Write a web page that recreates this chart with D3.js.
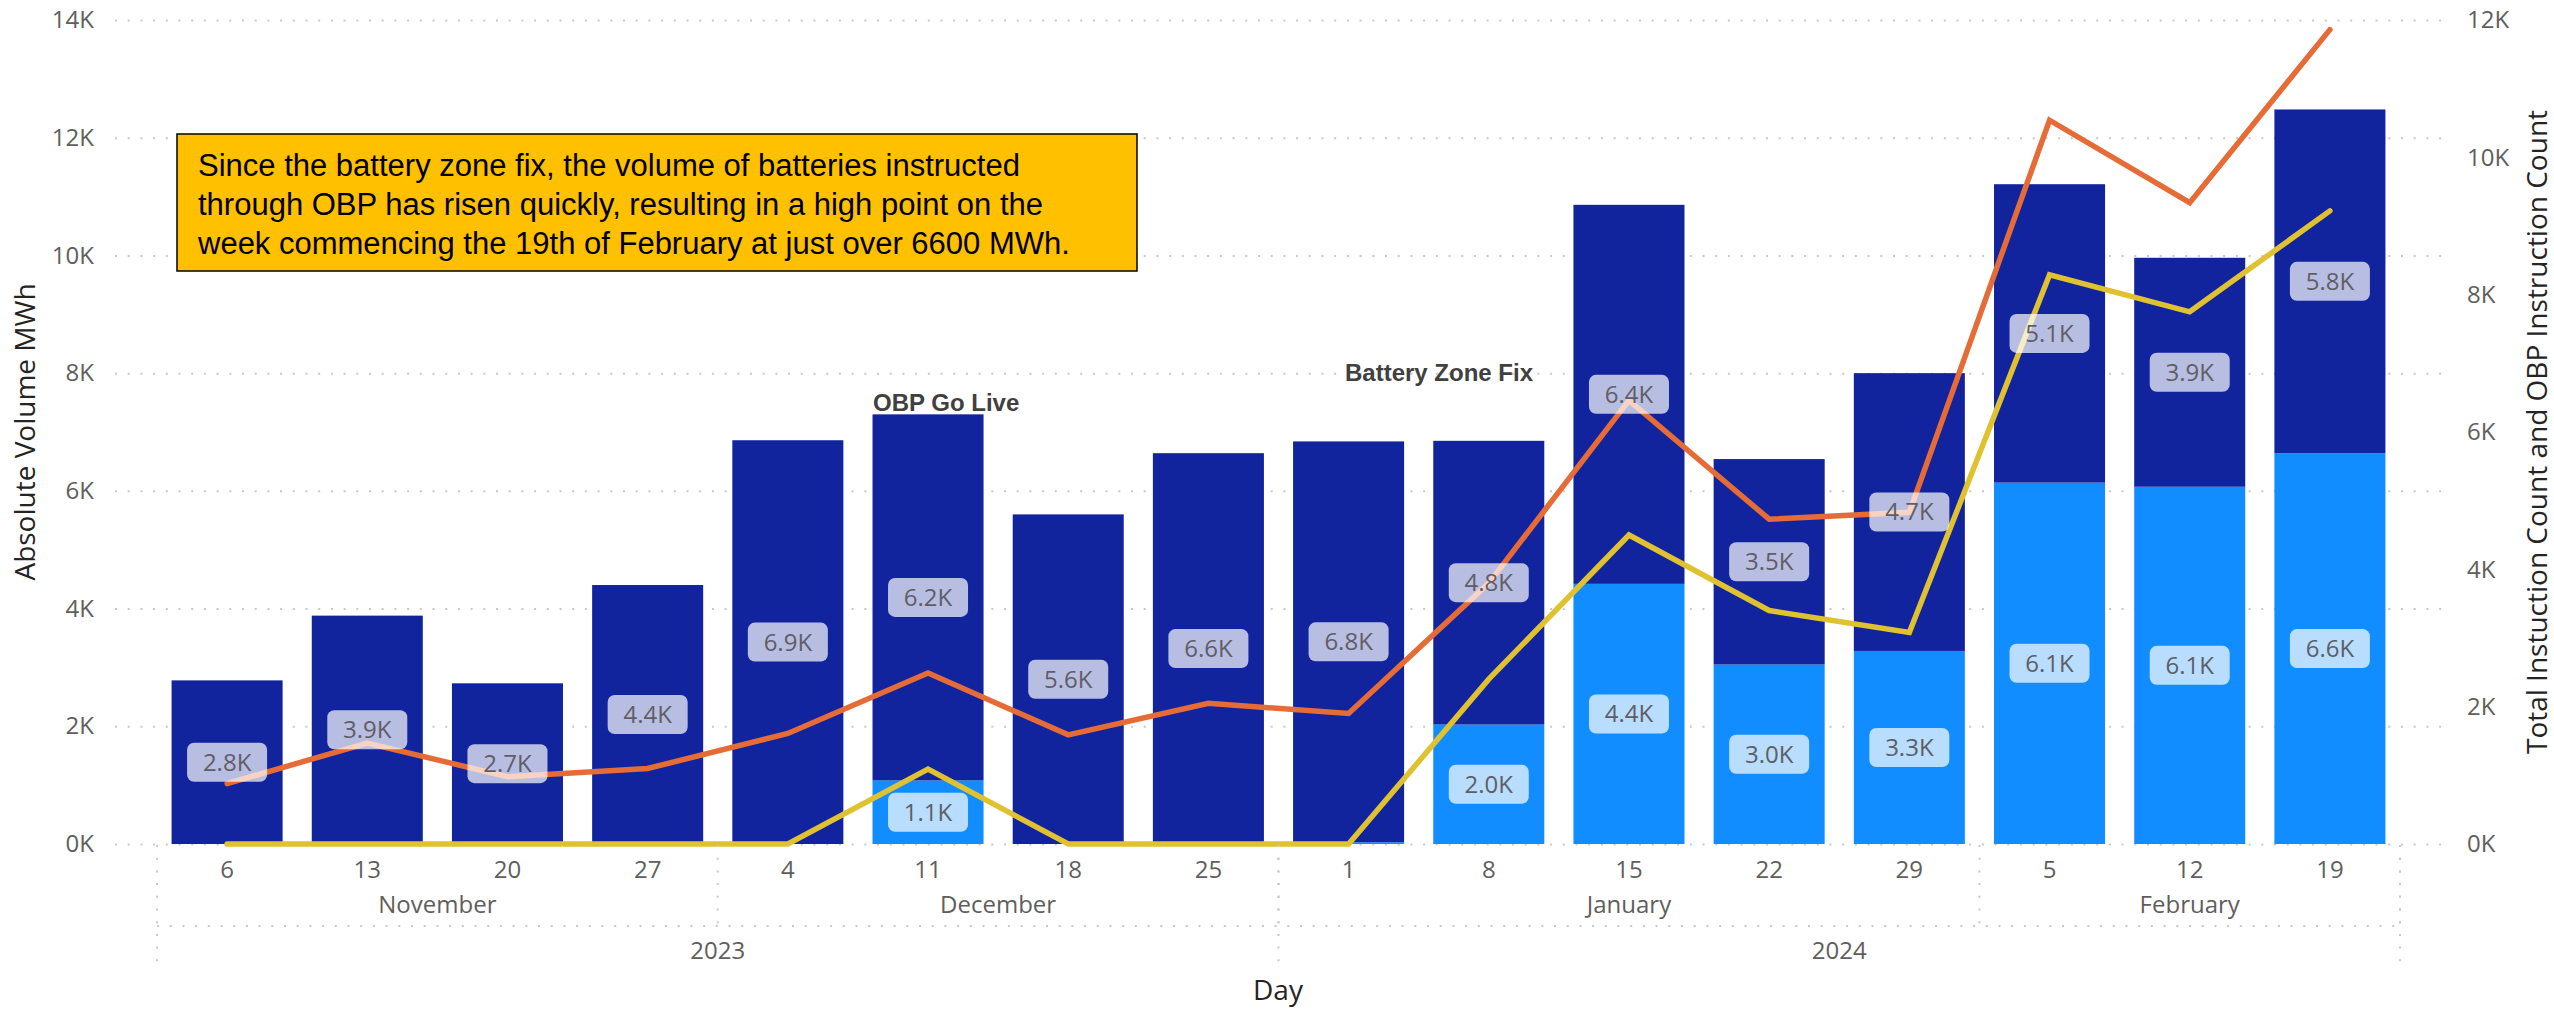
<!DOCTYPE html>
<html>
<head>
<meta charset="utf-8">
<script src="https://d3js.org/d3.v7.min.js"></script>
<style>
body { margin: 0; background: #fff; }
svg text { font-family: "Segoe UI", "Open Sans", sans-serif; }
.grid line { stroke: #c8c8c8; stroke-width: 2; stroke-dasharray: 2 10.7; }
.grid .domain { display: none; }
</style>
</head>
<body>
<main></main>
<script>
// data
const days = [6, 13, 20, 27, 4, 11, 18, 25, 1, 8, 15, 22, 29, 5, 12, 19];
const months = ["November", "November", "November", "November",
    "December", "December", "December", "December",
    "January", "January", "January", "January", "January",
    "February", "February", "February"];
const years = [2023, 2023, 2023, 2023, 2023, 2023, 2023, 2023,
    2024, 2024, 2024, 2024, 2024, 2024, 2024, 2024];
// absolute volume MWh (stacked)
const obpVolume = [0, 0, 0, 0, 0, 1080, 0, 0, 30, 2030, 4420, 3050, 3280, 6140, 6070, 6640];
const otherVolume = [2780, 3880, 2730, 4400, 6860, 6220, 5600, 6640, 6810, 4820, 6440, 3490, 4720, 5070, 3890, 5840];
// instruction counts (right axis)
const totalCount = [880, 1470, 980, 1100, 1610, 2490, 1590, 2050, 1900, 3800, 6460, 4730, 4830, 10540, 9340, 11860];
const obpCount = [0, 0, 0, 0, 0, 1090, 0, 0, 0, 2400, 4500, 3400, 3080, 8290, 7750, 9220];

const leftTicks = d3.range(0, 14001, 2000);
const rightTicks = d3.range(0, 12001, 2000);
const noteLines = [
    "Since the battery zone fix, the volume of batteries instructed",
    "through OBP has risen quickly, resulting in a high point on the",
    "week commencing the 19th of February at just over 6600 MWh."
];

const width = 2554, height = 1011;
const svg = d3.select("main").append("svg")
    .attr("width", width)
    .attr("height", height);

const x = d3.scaleBand()
    .domain(d3.range(days.length))
    .range([157, 2400])
    .paddingInner(0.208)
    .paddingOuter(0.104);
const yL = d3.scaleLinear().domain([0, 14000]).range([844, 20]);
const yR = d3.scaleLinear().domain([0, 12000]).range([844, 20]);
const cx = i => x(i) + x.bandwidth() / 2;
const fmtK = v => v === 0 ? "0K" : (v / 1000).toFixed(1) + "K";

// gridlines
svg.append("g")
    .attr("class", "grid")
    .attr("transform", "translate(115,0)")
    .call(d3.axisLeft(yL).tickValues(leftTicks).tickSize(-(2443 - 115)).tickFormat(""));

// left axis labels
const axL = svg.append("g")
    .attr("transform", "translate(94,0)")
    .call(d3.axisLeft(yL).tickValues(leftTicks).tickSize(0).tickPadding(0)
        .tickFormat(d => d / 1000 + "K"));
axL.select(".domain").remove();
axL.selectAll("text").attr("fill", "#605E5C").style("font-size", "24px");

// right axis labels
const axR = svg.append("g")
    .attr("transform", "translate(2467,0)")
    .call(d3.axisRight(yR).tickValues(rightTicks).tickSize(0).tickPadding(0)
        .tickFormat(d => d / 1000 + "K"));
axR.select(".domain").remove();
axR.selectAll("text").attr("fill", "#605E5C").style("font-size", "24px");

// stacked bars
const rows = days.map((d, i) => ({ i: i, obp: obpVolume[i], other: otherVolume[i] }));
const series = d3.stack().keys(["obp", "other"])(rows);
const colors = { obp: "#118DFF", other: "#12239E" };

svg.append("g")
    .selectAll("g")
    .data(series)
    .enter().append("g")
    .attr("fill", s => colors[s.key])
    .selectAll("rect")
    .data(s => s)
    .enter().append("rect")
    .attr("x", d => x(d.data.i))
    .attr("width", x.bandwidth())
    .attr("y", d => yL(d[1]))
    .attr("height", d => yL(d[0]) - yL(d[1]));

// lines
const line = d3.line()
    .x((v, i) => cx(i))
    .y(v => yR(v));

svg.append("path")
    .datum(totalCount)
    .attr("fill", "none")
    .attr("stroke", "#E66C37")
    .attr("stroke-width", 5.5)
    .attr("stroke-linecap", "round")
    .attr("d", line);

svg.append("path")
    .datum(obpCount)
    .attr("fill", "none")
    .attr("stroke", "#E0C12F")
    .attr("stroke-width", 5.5)
    .attr("stroke-linecap", "round")
    .attr("d", line);

// data labels
const labels = [];
series.forEach(s => {
    s.forEach(d => {
        const h = yL(d[0]) - yL(d[1]);
        if (h > 40) labels.push({ i: d.data.i, v: d[1] - d[0], y: (yL(d[0]) + yL(d[1])) / 2 });
    });
});
const lab = svg.append("g")
    .selectAll("g")
    .data(labels)
    .enter().append("g")
    .attr("transform", d => `translate(${cx(d.i)},${d.y})`);
lab.append("rect")
    .attr("x", -40).attr("y", -19.5)
    .attr("width", 80).attr("height", 39)
    .attr("rx", 7)
    .attr("fill", "#fff")
    .attr("fill-opacity", 0.7);
lab.append("text")
    .attr("text-anchor", "middle")
    .attr("dy", "0.35em")
    .attr("fill", "#5F5E66")
    .style("font-size", "24px")
    .text(d => fmtK(d.v));

// x axis: hierarchy
const xa = svg.append("g").attr("class", "xaxis");
const dot = sel => sel.attr("stroke", "#c8c8c8").attr("stroke-width", 2).attr("stroke-dasharray", "2 10.7");

xa.append("line").attr("x1", 157).attr("x2", 2400).attr("y1", 926).attr("y2", 926).call(dot);

xa.selectAll(".day")
    .data(days)
    .enter().append("text")
    .attr("x", (d, i) => cx(i))
    .attr("y", 878)
    .attr("text-anchor", "middle")
    .attr("fill", "#605E5C")
    .style("font-size", "24px")
    .text(d => d);

function runs(arr) {
    const out = [];
    arr.forEach((v, i) => {
        if (!out.length || out[out.length - 1].v !== v) out.push({ v: v, a: i, b: i });
        else out[out.length - 1].b = i;
    });
    return out;
}
const step = x.step();
const x0 = i => x.range()[0] + i * step;

const monthRuns = runs(months);
const yearRuns = runs(years);

xa.selectAll(".mdiv")
    .data(monthRuns)
    .enter().append("line")
    .attr("x1", d => x0(d.b + 1)).attr("x2", d => x0(d.b + 1))
    .attr("y1", 845).attr("y2", 926)
    .call(dot);
xa.selectAll(".ydiv")
    .data([{ b: -1 }].concat(yearRuns))
    .enter().append("line")
    .attr("x1", d => x0(d.b + 1)).attr("x2", d => x0(d.b + 1))
    .attr("y1", 845).attr("y2", 968)
    .call(dot);

xa.selectAll(".month")
    .data(monthRuns)
    .enter().append("text")
    .attr("x", d => (x0(d.a) + x0(d.b + 1)) / 2)
    .attr("y", 913)
    .attr("text-anchor", "middle")
    .attr("fill", "#605E5C")
    .style("font-size", "24px")
    .text(d => d.v);

xa.selectAll(".year")
    .data(yearRuns)
    .enter().append("text")
    .attr("x", d => (x0(d.a) + x0(d.b + 1)) / 2)
    .attr("y", 959)
    .attr("text-anchor", "middle")
    .attr("fill", "#605E5C")
    .style("font-size", "24px")
    .text(d => d.v);

// axis titles
svg.append("text")
    .attr("x", 1278).attr("y", 1000)
    .attr("text-anchor", "middle")
    .attr("fill", "#252423")
    .style("font-size", "28px")
    .text("Day");
svg.append("text")
    .attr("transform", "translate(35,432) rotate(-90)")
    .attr("text-anchor", "middle")
    .attr("fill", "#252423")
    .style("font-size", "28px")
    .text("Absolute Volume MWh");
svg.append("text")
    .attr("transform", "translate(2547,432) rotate(-90)")
    .attr("text-anchor", "middle")
    .attr("fill", "#252423")
    .style("font-size", "28px")
    .text("Total Instuction Count and OBP Instruction Count");

// annotations
svg.append("text")
    .attr("x", 873).attr("y", 411)
    .attr("fill", "#404040")
    .style("font-family", "Liberation Sans, Arial, sans-serif")
    .style("font-weight", "bold")
    .style("font-size", "24px")
    .text("OBP Go Live");
svg.append("text")
    .attr("x", 1345).attr("y", 381)
    .attr("fill", "#404040")
    .style("font-family", "Liberation Sans, Arial, sans-serif")
    .style("font-weight", "bold")
    .style("font-size", "24px")
    .text("Battery Zone Fix");

// note box
const note = svg.append("g");
note.append("rect")
    .attr("x", 177).attr("y", 134)
    .attr("width", 960).attr("height", 137)
    .attr("fill", "#FFC000")
    .attr("stroke", "#000")
    .attr("stroke-width", 1.5);
note.selectAll("text")
    .data(noteLines)
    .enter().append("text")
    .attr("x", 198)
    .attr("y", (d, i) => 176 + i * 39)
    .attr("fill", "#000")
    .style("font-family", "Liberation Sans, Arial, sans-serif")
    .style("font-size", "31px")
    .text(d => d);
</script>
</body>
</html>
